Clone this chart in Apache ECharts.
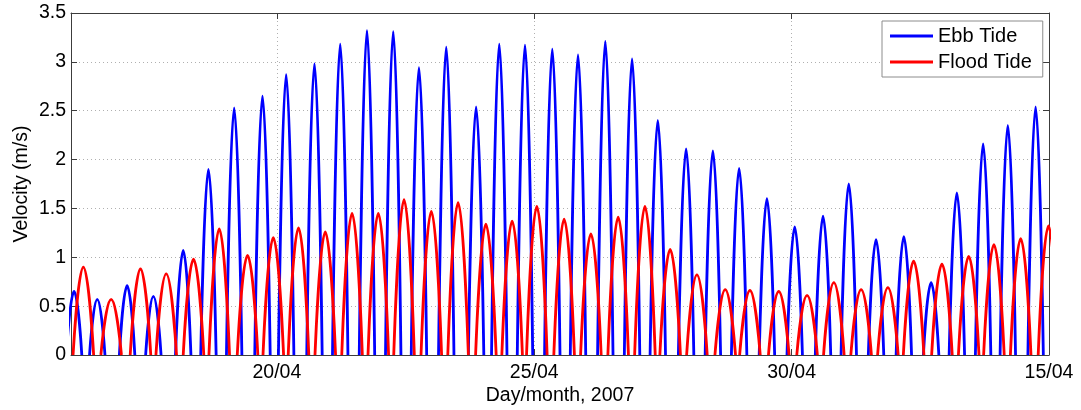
<!DOCTYPE html>
<html>
<head>
<meta charset="utf-8">
<script src="https://cdn.jsdelivr.net/npm/echarts@6/dist/echarts.min.js"></script>
<style>
  html, body { margin: 0; padding: 0; background: #fff; }
  #chart { width: 1081px; height: 410px; }
</style>
</head>
<body>
<div id="chart"></div>
<script>
// peak times (day of April 2007, fractional) and peak speeds
const ebbTime = [16.06, 16.51, 17.09, 17.60, 18.18, 18.67, 19.17, 19.72, 20.18, 20.73,
  21.23, 21.75, 22.26, 22.76, 23.29, 23.87, 24.32, 24.82, 25.35, 25.85,
  26.38, 26.90, 27.40, 27.95, 28.47, 28.98, 29.52, 30.06, 30.61, 31.11,
  31.64, 32.18, 32.71, 33.21, 33.72, 34.20, 34.74]
const ebbPeak = [0.65, 0.57, 0.71, 0.60, 1.07, 1.90, 2.53, 2.65, 2.87, 2.98,
  3.18, 3.32, 3.31, 2.94, 3.15, 2.54, 3.18, 3.17, 3.13, 3.07,
  3.21, 3.03, 2.40, 2.11, 2.09, 1.91, 1.60, 1.31, 1.42, 1.75,
  1.18, 1.21, 0.74, 1.66, 2.16, 2.35, 2.54]

const floodTime = [16.24, 16.78, 17.35, 17.85, 18.38, 18.88, 19.43, 19.93, 20.42, 20.94,
  21.46, 21.97, 22.47, 23.00, 23.52, 24.06, 24.57, 25.05, 25.58, 26.10,
  26.63, 27.15, 27.64, 28.16, 28.71, 29.19, 29.75, 30.30, 30.82, 31.35,
  31.87, 32.37, 32.92, 33.44, 33.93, 34.45, 34.99]
const floodPeak = [0.90, 0.57, 0.88, 0.83, 0.98, 1.29, 1.02, 1.20, 1.30, 1.26,
  1.45, 1.45, 1.59, 1.47, 1.56, 1.34, 1.37, 1.52, 1.39, 1.24,
  1.41, 1.52, 1.08, 0.82, 0.67, 0.66, 0.65, 0.61, 0.74, 0.67,
  0.69, 0.96, 0.93, 1.01, 1.13, 1.19, 1.32]

// half duration of one ebb / flood pulse at the zero line (days)
const ebbHalf = 0.15
const floodHalf = 0.2

const xTicks = [20, 25, 30, 35]
const xTickLabels = { 20: "20/04", 25: "25/04", 30: "30/04", 35: "15/04" }

function pulses(times, peaks, half) {
  const out = []
  times.forEach((t, i) => {
    out.push([t - half, 0], [t, peaks[i]], [t + half, 0], [t + half, null])
  })
  return out
}

const font = "'Liberation Sans', Arial, sans-serif"
const gridColor = "#b0b0b0"
const boxColor = "#3c3c3c"

const chart = echarts.init(document.getElementById("chart"))

const xBase = {
  type: "value",
  min: 16,
  max: 35,
  axisLine: { show: true, onZero: false, lineStyle: { color: boxColor, width: 1 } },
  axisTick: { show: true, inside: true, length: 6, customValues: xTicks, lineStyle: { color: boxColor } },
  splitLine: { show: false }
}
const yBase = {
  type: "value",
  min: 0,
  max: 3.5,
  interval: 0.5,
  axisLine: { show: true, lineStyle: { color: boxColor, width: 1 } },
  axisTick: { show: true, inside: true, length: 6, lineStyle: { color: boxColor } },
  splitLine: { show: false }
}

chart.setOption({
  animation: false,
  backgroundColor: "#fff",
  grid: { left: 71, right: 32, top: 13, bottom: 55, containLabel: false, outerBoundsMode: "none" },
  legend: {
    orient: "vertical",
    left: 882,
    top: 21,
    padding: [5, 11, 5, 8],
    itemGap: 6,
    itemWidth: 43,
    itemHeight: 3,
    icon: "rect",
    backgroundColor: "#fff",
    borderColor: "#8c8c8c",
    borderWidth: 1,
    borderRadius: 0,
    textStyle: { fontFamily: font, fontSize: 20, color: "#000" },
    data: ["Ebb Tide", "Flood Tide"]
  },
  xAxis: [
    Object.assign({}, xBase, {
      position: "bottom",
      name: "Day/month, 2007",
      nameLocation: "middle",
      nameGap: 31,
      nameMoveOverlap: false,
      nameTextStyle: { fontFamily: font, fontSize: 19.5, color: "#000" },
      axisLabel: {
        show: true,
        customValues: xTicks,
        margin: 8,
        fontFamily: font,
        fontSize: 19.5,
        color: "#000",
        formatter: v => xTickLabels[v] || ""
      },
      splitLine: { show: true, lineStyle: { color: gridColor, type: [1, 3], width: 1 } }
    }),
    Object.assign({}, xBase, { position: "top", axisLabel: { show: false } })
  ],
  yAxis: [
    Object.assign({}, yBase, {
      position: "left",
      name: "Velocity (m/s)",
      nameLocation: "middle",
      nameGap: 39,
      nameMoveOverlap: false,
      nameTextStyle: { fontFamily: font, fontSize: 19.5, color: "#000" },
      axisLabel: { show: true, margin: 5, fontFamily: font, fontSize: 19.5, color: "#000" },
      splitLine: { show: true, lineStyle: { color: gridColor, type: [1, 3], width: 1 } }
    }),
    Object.assign({}, yBase, { position: "right", axisLabel: { show: false } })
  ],
  series: [
    {
      name: "Ebb Tide",
      type: "line",
      xAxisIndex: 0,
      yAxisIndex: 0,
      data: pulses(ebbTime, ebbPeak, ebbHalf),
      showSymbol: false,
      symbol: "none",
      smooth: 0.5,
      connectNulls: false,
      clip: true,
      color: "#0000ff",
      lineStyle: { color: "#0000ff", width: 2.8 }
    },
    {
      name: "Flood Tide",
      type: "line",
      xAxisIndex: 0,
      yAxisIndex: 0,
      data: pulses(floodTime, floodPeak, floodHalf),
      showSymbol: false,
      symbol: "none",
      smooth: 0.5,
      connectNulls: false,
      clip: true,
      color: "#ff0000",
      lineStyle: { color: "#ff0000", width: 2.8 }
    }
  ]
})
</script>
</body>
</html>
